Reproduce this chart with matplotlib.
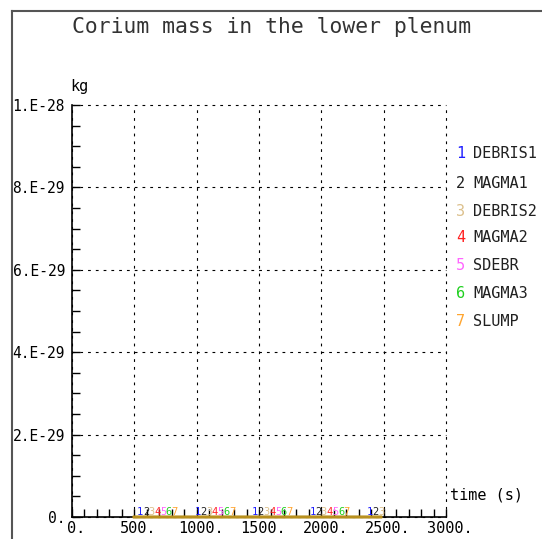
import matplotlib.pyplot as plt
import matplotlib.lines as mlines
import matplotlib.transforms as mtransforms
import numpy as np

# Curve data (all components are zero over the computed window)
time_s = np.array([500., 2480.])
series_names = ['DEBRIS1', 'MAGMA1', 'DEBRIS2', 'MAGMA2', 'SDEBR', 'MAGMA3', 'SLUMP']
series_colors = ['#1f1fff', '#202020', '#dcc08c', '#ff2020', '#ff66ff', '#20d020', '#ffa530']
mass_kg = {name: np.array([0., 0.]) for name in series_names}

# curve number labels: one group per cycle, each number shifted by one step
label_cycle_start = [548., 1008., 1468., 1928., 2388.]
label_step = 46.

x_ticks = [0, 500, 1000, 1500, 2000, 2500, 3000]
x_ticklabels = ['0.', '500.', '1000.', '1500.', '2000.', '2500.', '3000.']
y_ticks = [0, 2e-29, 4e-29, 6e-29, 8e-29, 1e-28]
y_ticklabels = ['0.', '2.E-29', '4.E-29', '6.E-29', '8.E-29', '1.E-28']

W, H = 542, 539
mono = 'DejaVu Sans Mono'
plt.rcParams['font.family'] = mono

fig = plt.figure(figsize=(W / 100, H / 100), dpi=100)
ax = fig.add_axes([72 / W, 1 - 517 / H, (446 - 72) / W, (517 - 105) / H])

line_color = '#b8901e'
for name in series_names:
    ax.plot(time_s, mass_kg[name], color=line_color, lw=1.6, clip_on=False, zorder=3)

for i, (name, col) in enumerate(zip(series_names, series_colors)):
    for t0 in label_cycle_start:
        t = t0 + i * label_step
        if t <= time_s[-1]:
            ax.text(t, 0, str(i + 1), color=col, fontsize=7.5, ha='center', va='bottom',
                    clip_on=False, zorder=4)

ax.set_xlim(0, 3000)
ax.set_ylim(0, 1e-28)
ax.set_xticks(x_ticks)
ax.set_xticklabels(x_ticklabels)
ax.set_yticks(y_ticks)
ax.set_yticklabels(y_ticklabels)
ax.set_xticks(np.arange(0, 3001, 100), minor=True)
ax.set_yticks(np.arange(0, 1.01e-28, 5e-30), minor=True)
ax.tick_params(which='both', direction='in', length=6, width=1, color='black',
               top=False, right=False, labelsize=11)
ax.tick_params(axis='y', pad=5, labelsize=10.5)
ax.tick_params(axis='x', pad=3)
# shift x labels a half character right, like the original plotter
offset = mtransforms.ScaledTranslation(4 / 100, 0, fig.dpi_scale_trans)
for lab in ax.get_xticklabels():
    lab.set_transform(lab.get_transform() + offset)

for side in ['top', 'right']:
    ax.spines[side].set_visible(False)
for side in ['left', 'bottom']:
    ax.spines[side].set_linewidth(1.2)
ax.grid(which='major', color='black', lw=0.8, linestyle=(0, (2.5, 4.5)))
ax.set_axisbelow(True)
for gl in ax.get_xgridlines() + ax.get_ygridlines():
    gl.set_clip_on(False)

# outer frame
frame_col = '#555555'
fig.add_artist(mlines.Line2D([12 / W, 12 / W], [0, 1 - 10.5 / H], color=frame_col, lw=1.5))
fig.add_artist(mlines.Line2D([12 / W, 1], [1 - 10.5 / H, 1 - 10.5 / H], color=frame_col, lw=1.5))

fig.text(271.5 / W, 1 - 27 / H, 'Corium mass in the lower plenum', fontsize=15.4,
         ha='center', va='center', color='#333333')
fig.text(70 / W, 1 - 86 / H, 'kg', fontsize=11, ha='left', va='center')
fig.text(450 / W, 1 - 495 / H, 'time (s)', fontsize=11, ha='left', va='center')

legend_y = [154, 183, 211, 238, 266, 293, 321]
for i, (name, col) in enumerate(zip(series_names, series_colors)):
    y = 1 - legend_y[i] / H
    fig.text(456 / W, y, str(i + 1), color=col, fontsize=11, ha='left', va='center')
    fig.text(473 / W, y, name, color='#202020', fontsize=11, ha='left', va='center')

fig.savefig('out.png', dpi=100)
